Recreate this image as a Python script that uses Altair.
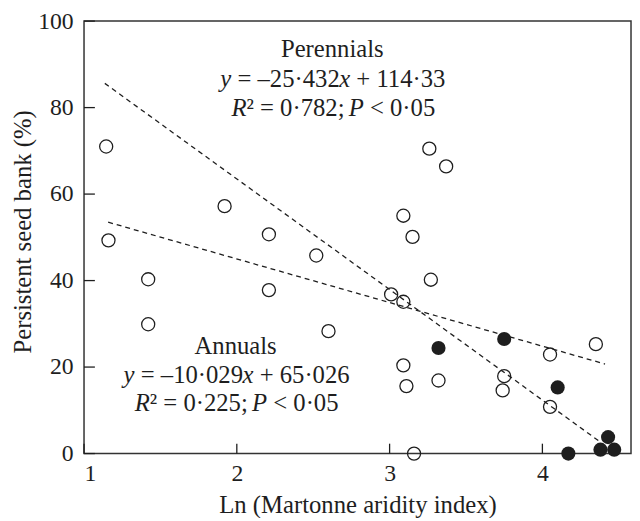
import altair as alt
import pandas as pd

# ---------------- data ----------------
open_x = [1.145, 1.16, 1.42, 1.42, 1.92, 2.21, 2.21, 2.52, 2.60, 3.01, 3.09, 3.09, 3.15,
          3.26, 3.37, 3.27, 3.09, 3.11, 3.32, 3.16, 3.75, 3.74, 4.05, 4.05, 4.35]
open_y = [71.0, 49.3, 40.3, 29.9, 57.2, 50.7, 37.8, 45.8, 28.3, 36.8, 35.1, 55.0, 50.1,
          70.5, 66.4, 40.2, 20.4, 15.6, 16.9, 0.0, 17.9, 14.6, 22.9, 10.8, 25.3]
filled_x = [3.32, 3.75, 4.10, 4.17, 4.43, 4.38, 4.47]
filled_y = [24.4, 26.5, 15.3, 0.0, 3.8, 0.9, 0.9]

# regression lines (end points)
per_line_x = [1.136, 4.37]
per_line_y = [85.6, 2.9]
ann_line_x = [1.158, 4.41]
ann_line_y = [53.5, 20.7]

x_ticks = [1, 2, 3, 4]
y_ticks = [0, 20, 40, 60, 80, 100]

X_DOM = [1, 4.58]
Y_DOM = [0, 100]
W, H = 554, 438
PXU = W / (X_DOM[1] - X_DOM[0])   # pixels per x unit

FONT = "Liberation Serif"
FS = 25
INK = "#1e1e1e"

# ---------------- annotation text (mixed italic) ----------------
REG_W = {" ": 250, "=": 564, "\u2013": 500, "\u00b7": 250, "+": 564, ";": 278,
         "<": 564, "\u00b2": 300}
IT_W = {"y": 444, "x": 444, "R": 611, "P": 611}
GAP = 1.5  # small extra gap (px) before an italic letter that follows upright text


def text_w(t, italic):
    tot = 0
    for ch in t:
        if italic:
            tot += IT_W.get(ch, 500)
        else:
            tot += REG_W.get(ch, 500)
    return tot / 1000 * FS


rows_reg, rows_it, rows_head = [], [], []


def add_line(segments, cx, y):
    widths = []
    for i, (t, it) in enumerate(segments):
        w = text_w(t, it)
        if it and i > 0 and not segments[i - 1][0].endswith(" "):
            w += GAP
        widths.append(w)
    total = sum(widths)
    start = -total / 2
    for i, (t, it) in enumerate(segments):
        pad = GAP if (it and i > 0 and not segments[i - 1][0].endswith(" ")) else 0
        lead = len(t) - len(t.lstrip(" "))
        pos = start + pad + lead * 250 / 1000 * FS
        row = {"x": cx + pos / PXU, "y": y, "t": t.strip()}
        (rows_it if it else rows_reg).append(row)
        start += widths[i]


per_cx, ann_cx = 2.625, 1.992
rows_head.append({"x": per_cx, "y": 91.6, "t": "Perennials"})
add_line([("y", True), (" = \u201325\u00b7432", False), ("x", True), (" + 114\u00b733", False)], per_cx, 84.8)
add_line([("R", True), ("\u00b2 = 0\u00b7782; ", False), ("P", True), (" < 0\u00b705", False)], per_cx, 78.0)
rows_head.append({"x": ann_cx, "y": 23.1, "t": "Annuals"})
add_line([("y", True), (" = \u201310\u00b7029", False), ("x", True), (" + 65\u00b7026", False)], ann_cx, 16.4)
add_line([("R", True), ("\u00b2 = 0\u00b7225; ", False), ("P", True), (" < 0\u00b705", False)], ann_cx, 9.8)

# ---------------- chart ----------------
xs = alt.Scale(domain=X_DOM, nice=False, zero=False)
ys = alt.Scale(domain=Y_DOM, nice=False, zero=False)

xax = alt.Axis(values=x_ticks, format="d", tickSize=0, domain=False, grid=False, labelPadding=8,
               labelFont=FONT, labelFontSize=24, labelColor=INK,
               titleFont=FONT, titleFontSize=25, titleFontWeight="normal", titleColor=INK,
               title="Ln (Martonne aridity index)", titleY=60, titleBaseline="alphabetic")
yax = alt.Axis(values=y_ticks, format="d", tickSize=0, domain=False, grid=False, labelPadding=11,
               labelFont=FONT, labelFontSize=24, labelColor=INK,
               titleFont=FONT, titleFontSize=25, titleFontWeight="normal", titleColor=INK,
               title="Persistent seed bank (%)", titleX=-54, titleY=213,
               titleBaseline="alphabetic")

X = lambda f: alt.X(f, scale=xs, axis=xax)
Y = lambda f: alt.Y(f, scale=ys, axis=yax)

df_open = pd.DataFrame({"x": open_x, "y": open_y})
df_fill = pd.DataFrame({"x": filled_x, "y": filled_y})
df_lines = pd.DataFrame({
    "x": per_line_x + ann_line_x,
    "y": per_line_y + ann_line_y,
    "g": ["Perennials"] * 2 + ["Annuals"] * 2,
})

base_open = alt.Chart(df_open).mark_point(
    shape="circle", filled=False, size=175, stroke=INK, strokeWidth=1.3, opacity=1
).encode(x=X("x:Q"), y=Y("y:Q"))

filled = alt.Chart(df_fill).mark_point(
    shape="circle", filled=True, size=205, color=INK, opacity=1
).encode(x=X("x:Q"), y=Y("y:Q"))

lines = alt.Chart(df_lines).mark_line(
    strokeDash=[5, 4], strokeWidth=1.3, color=INK
).encode(x=X("x:Q"), y=Y("y:Q"), detail="g:N")

ytick_df = pd.DataFrame({"v": y_ticks})
xtick_df = pd.DataFrame({"v": x_ticks})
yticks = alt.Chart(ytick_df).mark_rule(color=INK, strokeWidth=1.3).encode(
    y=Y("v:Q"), x=alt.value(0), x2=alt.value(11))
xticks = alt.Chart(xtick_df).mark_rule(color=INK, strokeWidth=1.3).encode(
    x=X("v:Q"), y=alt.value(H), y2=alt.value(H - 10))

txt_head = alt.Chart(pd.DataFrame(rows_head)).mark_text(
    align="center", baseline="alphabetic", font=FONT, fontSize=FS, color=INK
).encode(x=X("x:Q"), y=Y("y:Q"), text="t:N")
txt_reg = alt.Chart(pd.DataFrame(rows_reg)).mark_text(
    align="left", baseline="alphabetic", font=FONT, fontSize=FS, color=INK
).encode(x=X("x:Q"), y=Y("y:Q"), text="t:N")
txt_it = alt.Chart(pd.DataFrame(rows_it)).mark_text(
    align="left", baseline="alphabetic", font=FONT, fontSize=FS, fontStyle="italic", color=INK
).encode(x=X("x:Q"), y=Y("y:Q"), text="t:N")

chart = alt.layer(
    base_open, lines, filled, yticks, xticks, txt_head, txt_reg, txt_it
).properties(
    width=W, height=H,
    autosize=alt.AutoSizeParams(type="none"),
    padding={"left": 77, "top": 10, "right": 1, "bottom": 62},
    background="white",
).configure_view(
    stroke="#333333", strokeWidth=1.5
).configure_axis(
    labelFont=FONT, labelFontSize=24, labelColor=INK,
    titleFont=FONT, titleFontSize=25, titleFontWeight="normal", titleColor=INK,
)

chart.save("out.html", embed_options={"renderer": "svg", "actions": False})
